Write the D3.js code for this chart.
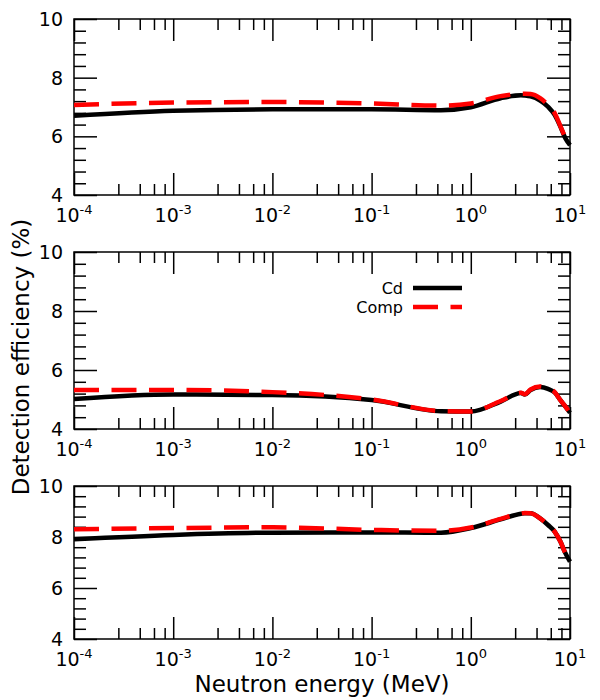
<!DOCTYPE html>
<html>
<head>
<meta charset="utf-8">
<script src="https://cdn.jsdelivr.net/npm/d3@7"></script>
<style>
	body { margin: 0; background: #fff; }
	text { font-family: "DejaVu Sans", sans-serif; fill: #000; }
	.tick line { stroke: #000; stroke-width: 1.5; }
</style>
</head>
<body>
<svg width="600" height="700"></svg>
<script>
	// neutron energy (MeV)
	var energy = [1e-4, 1e-3, 1e-2, 0.1, 0.5, 1, 2, 3.2, 3.5, 4, 5, 6, 7, 8, 9, 10]

	// detection efficiency (%), one pair of series per panel
	var topCd    = [6.70, 6.87, 6.92, 6.92, 6.89, 6.99, 7.30, 7.40, 7.39, 7.36, 7.22, 7.01, 6.73, 6.33, 5.93, 5.70]
	var topComp  = [7.07, 7.15, 7.17, 7.12, 7.05, 7.12, 7.37, 7.45, 7.45, 7.44, 7.30, 7.07, 6.79, 6.35, 5.95, 5.72]
	var midCd    = [5.02, 5.17, 5.15, 4.98, 4.60, 4.59, 4.93, 5.22, 5.17, 5.32, 5.42, 5.36, 5.24, 4.98, 4.76, 4.55]
	var midComp  = [5.32, 5.32, 5.25, 5.00, 4.61, 4.59, 4.95, 5.23, 5.18, 5.34, 5.44, 5.37, 5.25, 4.98, 4.76, 4.55]
	var botCd    = [7.91, 8.08, 8.17, 8.18, 8.17, 8.35, 8.69, 8.91, 8.93, 8.93, 8.73, 8.47, 8.21, 7.82, 7.36, 7.03]
	var botComp  = [8.30, 8.35, 8.38, 8.28, 8.24, 8.37, 8.71, 8.92, 8.94, 8.93, 8.73, 8.47, 8.21, 7.82, 7.36, 7.03]

	var xMajor = [1e-4, 1e-3, 1e-2, 1e-1, 1, 10]
	var xExp = ["-4", "-3", "-2", "-1", "0", "1"]
	var xMinorSteps = [2.8, 4.6, 6.4, 8.2]
	var yMajor = [4, 6, 8, 10]
	var seriesNames = ["Cd", "Comp"]

	var svg = d3.select("svg")
	var left = 74,
		right = 570

	var x = d3.scaleLog().domain([1e-4, 10]).range([left, right])

	var xMinor = []
	xMajor.slice(0, -1).forEach(function(d) {
		xMinorSteps.forEach(function(m) { xMinor.push(d * m) })
	})
	var yMinor = d3.range(0, 16).map(function(i) { return 4 + i * 0.4 })
		.filter(function(v) { return Math.abs(v - Math.round(v)) > 0.01 || Math.round(v) % 2 == 1 })

	var panels = [
		{ top: 19, bottom: 195, cd: topCd, comp: topComp },
		{ top: 252, bottom: 429, cd: midCd, comp: midComp },
		{ top: 486, bottom: 639, cd: botCd, comp: botComp }
	]

	function drawAxis(g, axis, transform) {
		var a = g.append("g").attr("transform", transform).call(axis)
		a.select(".domain").remove()
		a.selectAll("text").remove()
	}

	panels.forEach(function(p) {
		var y = d3.scaleLinear().domain([4, 10]).range([p.bottom, p.top])
		var g = svg.append("g")

		drawAxis(g, d3.axisBottom(x).tickValues(xMajor).tickSize(-22), "translate(0," + p.bottom + ")")
		drawAxis(g, d3.axisBottom(x).tickValues(xMinor).tickSize(-11), "translate(0," + p.bottom + ")")
		drawAxis(g, d3.axisTop(x).tickValues(xMajor).tickSize(-22), "translate(0," + p.top + ")")
		drawAxis(g, d3.axisTop(x).tickValues(xMinor).tickSize(-11), "translate(0," + p.top + ")")
		drawAxis(g, d3.axisLeft(y).tickValues(yMajor).tickSize(-23), "translate(" + left + ",0)")
		drawAxis(g, d3.axisLeft(y).tickValues(yMinor).tickSize(-12), "translate(" + left + ",0)")
		drawAxis(g, d3.axisRight(y).tickValues(yMajor).tickSize(-23), "translate(" + right + ",0)")
		drawAxis(g, d3.axisRight(y).tickValues(yMinor).tickSize(-12), "translate(" + right + ",0)")

		g.append("rect")
			.attr("x", left).attr("y", p.top)
			.attr("width", right - left).attr("height", p.bottom - p.top)
			.attr("fill", "none").attr("stroke", "#000").attr("stroke-width", 1.5)

		// y tick labels
		g.selectAll(".ylab").data(yMajor).enter().append("text")
			.attr("x", left - 11)
			.attr("y", function(d) { return y(d) })
			.attr("dy", "0.36em")
			.attr("text-anchor", "end")
			.attr("font-size", 19)
			.text(function(d) { return d })

		// x tick labels, 10 with superscript exponent
		var xl = g.selectAll(".xlab").data(xMajor).enter().append("text")
			.attr("x", function(d) { return x(d) })
			.attr("y", p.bottom + 27)
			.attr("text-anchor", "middle")
			.attr("font-size", 19)
		xl.append("tspan").text("10")
		xl.append("tspan")
			.attr("dy", -8)
			.attr("font-size", 13)
			.text(function(d, i) { return xExp[i] })

		var line = d3.line()
			.x(function(d) { return x(d[0]) })
			.y(function(d) { return y(d[1]) })
			.curve(d3.curveMonotoneX)

		g.append("path")
			.attr("d", line(d3.zip(energy, p.cd)))
			.attr("fill", "none").attr("stroke", "#000").attr("stroke-width", 4.5)
		g.append("path")
			.attr("d", line(d3.zip(energy, p.comp)))
			.attr("fill", "none").attr("stroke", "#f00").attr("stroke-width", 4.5)
			.attr("stroke-dasharray", "25,12.5")
	})

	// legend in the middle panel
	var legend = svg.append("g")
	seriesNames.forEach(function(name, i) {
		var ly = 288 + i * 19
		legend.append("text")
			.attr("x", 403).attr("y", ly).attr("dy", "0.36em")
			.attr("text-anchor", "end").attr("font-size", 16)
			.text(name)
		legend.append("line")
			.attr("x1", 413).attr("x2", 462).attr("y1", ly).attr("y2", ly)
			.attr("stroke", i == 0 ? "#000" : "#f00").attr("stroke-width", 4.5)
			.attr("stroke-dasharray", i == 0 ? null : "25,12.5")
	})

	svg.append("text")
		.attr("x", 322).attr("y", 692)
		.attr("text-anchor", "middle").attr("font-size", 23)
		.text("Neutron energy (MeV)")

	svg.append("text")
		.attr("transform", "translate(29,357) rotate(-90)")
		.attr("text-anchor", "middle").attr("font-size", 23)
		.text("Detection efficiency (%)")
</script>
</body>
</html>
